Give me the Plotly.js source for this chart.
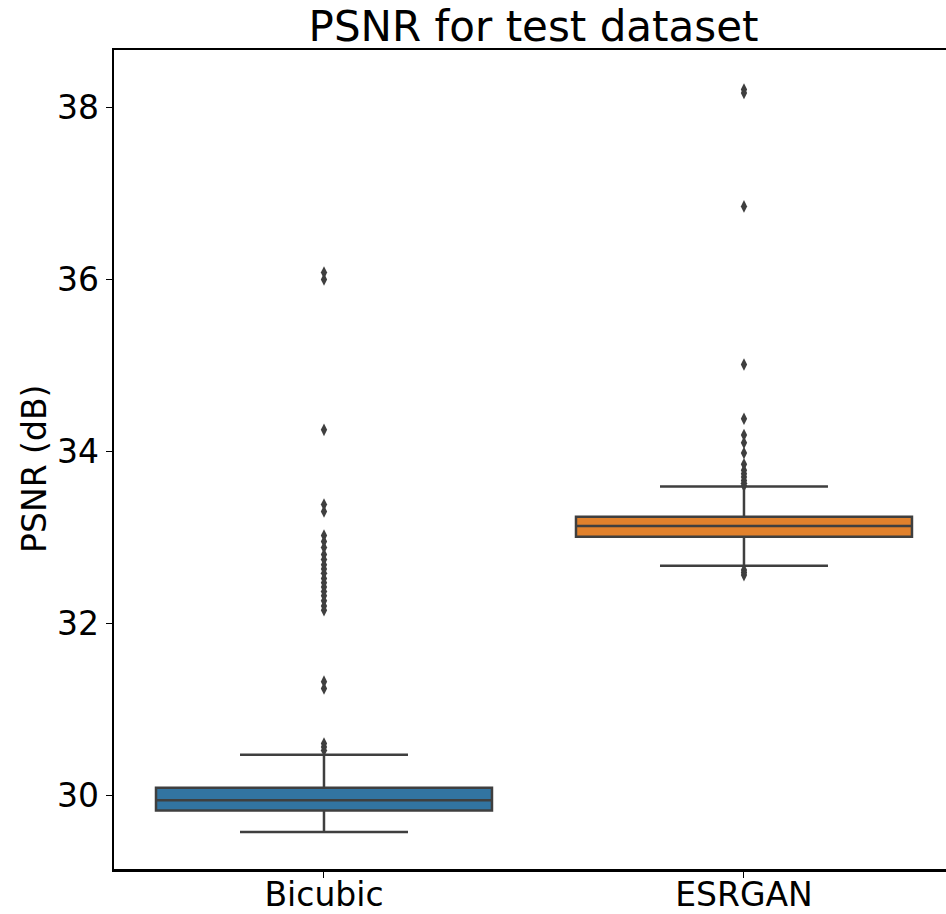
<!DOCTYPE html>
<html>
<head>
<meta charset="utf-8">
<script src="https://cdn.plot.ly/plotly-3.0.1.min.js"></script>
<style>html,body{margin:0;padding:0;background:#fff;}#chart{width:946px;height:914px;}</style>
</head>
<body>
<div id="chart"></div>
<script>
// Data
const categories = ["Bicubic", "ESRGAN"];
const q1 = [29.82, 33.005];
const medians = [29.94, 33.13];
const q3 = [30.085, 33.24];
const lowerWhisker = [29.57, 32.67];
const upperWhisker = [30.47, 33.59];
const boxColors = ["#3274a1", "#e1812c"];

const bicubicOutliers = [36.08, 36.0, 34.25, 33.38, 33.30, 33.02, 32.95, 32.88, 32.80, 32.74,
  32.68, 32.63, 32.58, 32.52, 32.47, 32.42, 32.37, 32.32, 32.26, 32.20, 32.15,
  31.32, 31.24, 30.60, 30.56, 30.52];
const esrganOutliers = [38.21, 38.17, 36.85, 35.01, 34.38, 34.19, 34.10, 33.98, 33.85,
  33.78, 33.74, 33.70, 33.66, 33.63, 33.60, 32.62, 32.59, 32.56];
const outlierSets = [bicubicOutliers, esrganOutliers];

const yTicks = [30, 32, 34, 36, 38];

const lineColor = "#3f3f3f";
const traces = [];
categories.forEach((c, i) => {
  traces.push({
    type: "box",
    x: [c],
    q1: [q1[i]],
    median: [medians[i]],
    q3: [q3[i]],
    lowerfence: [lowerWhisker[i]],
    upperfence: [upperWhisker[i]],
    boxpoints: false,
    width: 0.8,
    whiskerwidth: 0.5,
    fillcolor: boxColors[i],
    line: {color: lineColor, width: 2.5},
    hoverinfo: "skip"
  });
});
categories.forEach((c, i) => {
  traces.push({
    type: "scatter",
    mode: "markers",
    x: outlierSets[i].map(() => c),
    y: outlierSets[i],
    marker: {symbol: "diamond-tall", size: 9, color: lineColor, line: {width: 0}},
    hoverinfo: "skip"
  });
});

const layout = {
  width: 946,
  height: 914,
  margin: {l: 114, r: 0, t: 50, b: 45},
  paper_bgcolor: "#ffffff",
  plot_bgcolor: "#ffffff",
  showlegend: false,
  hovermode: false,
  font: {family: "DejaVu Sans", color: "#000"},
  title: {
    text: "PSNR for test dataset",
    font: {size: 42, color: "#000"},
    x: 0.564, xanchor: "center",
    y: 0.971, yanchor: "middle"
  },
  xaxis: {
    type: "category",
    categoryarray: categories,
    range: [-0.5, 1.481],
    showgrid: false,
    zeroline: false,
    showline: true,
    linecolor: "#000",
    linewidth: 2.5,
    mirror: true,
    ticks: "outside",
    ticklen: 6,
    tickwidth: 1,
    tickcolor: "#000",
    ticklabelstandoff: -11,
    tickfont: {size: 33, color: "#000"}
  },
  yaxis: {
    range: [29.14, 38.67],
    tickvals: yTicks,
    ticktext: yTicks.map(String),
    showgrid: false,
    zeroline: false,
    showline: true,
    linecolor: "#000",
    linewidth: 2.5,
    ticks: "outside",
    ticklen: 6,
    tickwidth: 1,
    tickcolor: "#000",
    tickfont: {size: 33, color: "#000"}
  },
  annotations: [{
    text: "PSNR (dB)",
    textangle: -90,
    xref: "paper", yref: "paper",
    x: -0.095, xanchor: "center",
    y: 0.4885, yanchor: "middle",
    showarrow: false,
    font: {size: 33, color: "#000"}
  }]
};

Plotly.newPlot("chart", traces, layout, {staticPlot: true});
</script>
</body>
</html>
